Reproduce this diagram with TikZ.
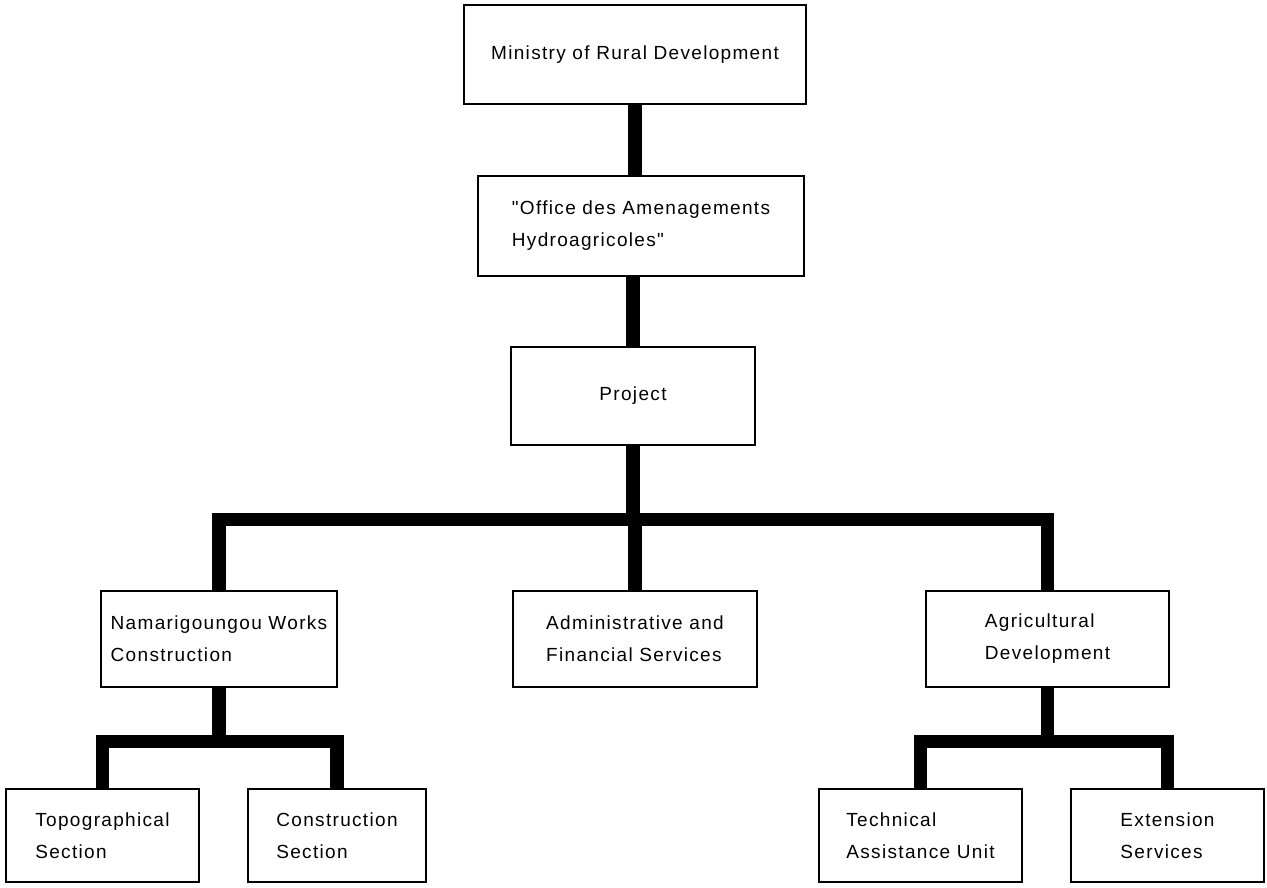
\documentclass[tikz,border=0pt]{standalone}
\usepackage{fontspec}
\newfontfamily\orgfont{Liberation Sans}[LetterSpace=7]
\usepackage{tikz}
\tikzset{
  unit/.style={draw, line width=2.6pt, align=left, inner sep=0pt,
               font=\orgfont\fontsize{19}{32}\selectfont},
  link/.style={line width=13.5pt},
}

\begin{document}
\begin{tikzpicture}[x=1pt, y=-1pt]
    \useasboundingbox (0,0) rectangle (1267,888);

    % upper chain
    \node[unit, minimum width=342, minimum height=99] (min) at (635,54.5) {Ministry of Rural Development};
    \node[unit, minimum width=326, minimum height=100] (off) at (641,226) {"Office des Amenagements\\Hydroagricoles"};
    \node[unit, minimum width=244, minimum height=98] (proj) at (633,396) {Project};

    % departments
    \node[unit, minimum width=236, minimum height=96] (nam) at (219,639) {Namarigoungou Works\\Construction};
    \node[unit, minimum width=244, minimum height=96] (adm) at (635,639) {Administrative and\\Financial Services};
    \node[unit, minimum width=243, minimum height=96] (agri) at (1047.5,639) {Agricultural\\Development};

    % sections
    \node[unit, minimum width=193, minimum height=93] (topo) at (102.5,835.5) {Topographical\\Section};
    \node[unit, minimum width=178, minimum height=93] (cons) at (337,835.5) {Construction\\Section};
    \node[unit, minimum width=203, minimum height=93] (tech) at (920.5,835.5) {Technical\\Assistance Unit};
    \node[unit, minimum width=193, minimum height=93] (ext) at (1167.5,835.5) {Extension\\Services};

    % links
    \draw[link] (min.south) -- (min.south |- off.north);
    \draw[link] (proj.north) -- (proj.north |- off.south);
    \draw[link] (proj.south) -- ++(0,73) coordinate (bus1);
    \foreach \n in {nam,adm,agri}
      \draw[link] (bus1) -| (\n.north);
    \draw[link] (nam.south) -- ++(0,53) coordinate (bus2);
    \foreach \n in {topo,cons}
      \draw[link] (bus2) -| (\n.north);
    \draw[link] (agri.south) -- ++(0,53) coordinate (bus3);
    \foreach \n in {tech,ext}
      \draw[link] (bus3) -| (\n.north);
\end{tikzpicture}
\end{document}
